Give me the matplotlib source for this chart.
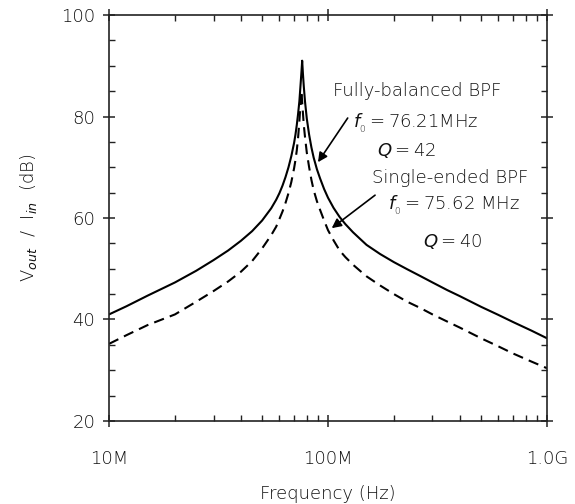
import matplotlib
matplotlib.use('Agg')
import matplotlib.pyplot as plt
from matplotlib.ticker import FixedLocator, MultipleLocator, FixedFormatter

# (frequency in MHz, response in dB)
freq_fb = [10, 12, 15, 20, 25, 30, 35, 40, 45, 50, 55, 58, 60, 62, 64, 66,
           68, 70, 71, 72, 73, 74, 75, 75.7, 76.21, 76.8, 77.5, 78.5, 80,
           82, 84, 86, 89, 92, 96, 100, 106, 113, 120, 130, 140, 150, 173,
           200, 230, 263, 300, 350, 400, 500, 600, 700, 850, 1000]
gain_fb = [41.0, 42.6, 44.7, 47.3, 49.6, 51.7, 53.6, 55.5, 57.4, 59.5, 61.9,
           63.6, 64.9, 66.4, 68.1, 70.0, 72.2, 74.8, 76.4, 78.3, 80.5, 83.0,
           86.5, 89.0, 91.0, 88.5, 86.0, 83.0, 79.6, 76.4, 73.9, 71.9, 69.6,
           67.8, 65.7, 64.0, 62.0, 60.2, 58.8, 57.2, 55.9, 54.7, 52.9, 51.3,
           49.9, 48.6, 47.3, 45.8, 44.6, 42.5, 40.9, 39.5, 37.8, 36.3]

freq_se = [10, 12, 15, 20, 25, 30, 35, 40, 45, 50, 55, 58, 60, 62, 64, 66,
           68, 70, 71, 72, 73, 74, 75, 75.62, 76.3, 77.5, 78.5, 80, 82, 84,
           86, 89, 92, 96, 100, 106, 113, 120, 130, 140, 150, 173, 200, 230,
           263, 300, 350, 400, 500, 600, 700, 850, 1000]
gain_se = [35.2, 36.9, 38.9, 41.0, 43.5, 45.6, 47.5, 49.4, 51.5, 54.0, 56.6,
           58.3, 59.8, 61.3, 63.0, 64.9, 67.1, 69.8, 71.4, 73.3, 75.8, 79.0,
           83.0, 85.0, 82.5, 78.4, 76.0, 72.9, 70.0, 67.5, 65.5, 63.3, 61.6,
           59.5, 57.6, 55.6, 53.6, 52.3, 50.8, 49.6, 48.5, 46.7, 45.0, 43.5,
           42.3, 41.0, 39.6, 38.4, 36.3, 34.7, 33.3, 31.7, 30.4]

x_ticks = [10e6, 100e6, 1e9]
x_labels = ['10M', '100M', '1.0G']
y_ticks = [20, 40, 60, 80, 100]

txtcol = '#111111'
plt.rcParams['font.family'] = ['DejaVu Sans']
plt.rcParams['font.weight'] = 'light'
plt.rcParams['axes.labelweight'] = 'light'
plt.rcParams['mathtext.fontset'] = 'custom'
plt.rcParams['mathtext.rm'] = 'DejaVu Sans:light'
plt.rcParams['mathtext.it'] = 'DejaVu Sans:italic'
plt.rcParams['mathtext.bf'] = 'DejaVu Sans:bold'

fig = plt.figure(figsize=(5.75, 5.04), dpi=100)
ax = fig.add_axes([0.1896, 0.1647, 0.7617, 0.8055])

ax.plot([f * 1e6 for f in freq_fb], gain_fb, color='k', lw=1.5)
ax.plot([f * 1e6 for f in freq_se], gain_se, color='k', lw=1.5,
        dashes=(5, 3))

ax.set_xscale('log')
ax.set_xlim(10e6, 1e9)
ax.set_ylim(20, 100)
ax.xaxis.set_major_locator(FixedLocator(x_ticks))
ax.xaxis.set_major_formatter(FixedFormatter(x_labels))
ax.yaxis.set_major_locator(FixedLocator(y_ticks))
ax.yaxis.set_minor_locator(MultipleLocator(5))

for s in ax.spines.values():
    s.set_linewidth(1.2)
    s.set_color('#222222')
ax.tick_params(which='major', direction='inout', length=8, width=1.1,
               top=True, right=True, labelsize=13, labelcolor=txtcol,
               color='#222222')
ax.tick_params(which='minor', direction='in', length=4, width=1.0,
               top=True, right=True, color='#222222')
ax.tick_params(axis='x', which='major', pad=17)
ax.tick_params(axis='y', which='major', pad=6)

ax.set_xlabel('Frequency (Hz)', fontsize=13, color=txtcol, labelpad=12)
ax.set_ylabel(r'$\mathrm{V}_{out}$  /  $\mathrm{I}_{in}$  (dB)', fontsize=13,
              color=txtcol, labelpad=16)

# annotation blocks (pixel positions measured on the reference)
def px(x, y):
    return (x / 575.0, 1 - y / 504.0)

fs = 13
fig.text(*px(333, 91), 'Fully-balanced BPF', fontsize=fs, color=txtcol,
         va='center', ha='left')
fig.text(*px(353, 123), r'$f_{_0}=$76.21MHz', fontsize=fs, color=txtcol,
         va='center', ha='left')
fig.text(*px(377, 150), r'$Q=$42', fontsize=fs, color=txtcol,
         va='center', ha='left')
fig.text(*px(372, 178), 'Single-ended BPF', fontsize=fs, color=txtcol,
         va='center', ha='left')
fig.text(*px(388, 205), r'$f_{_0}=$75.62 MHz', fontsize=fs, color=txtcol,
         va='center', ha='left')
fig.text(*px(423, 241), r'$Q=$40', fontsize=fs, color=txtcol,
         va='center', ha='left')

arrow = dict(arrowstyle='-|>', color='k', lw=1.2, mutation_scale=14,
             shrinkA=0, shrinkB=0)
ax.annotate('', xy=(90e6, 71.0), xytext=(123e6, 79.7), arrowprops=arrow)
ax.annotate('', xy=(104e6, 58.0), xytext=(164e6, 64.5), arrowprops=arrow)

fig.savefig('out.png', dpi=100)
